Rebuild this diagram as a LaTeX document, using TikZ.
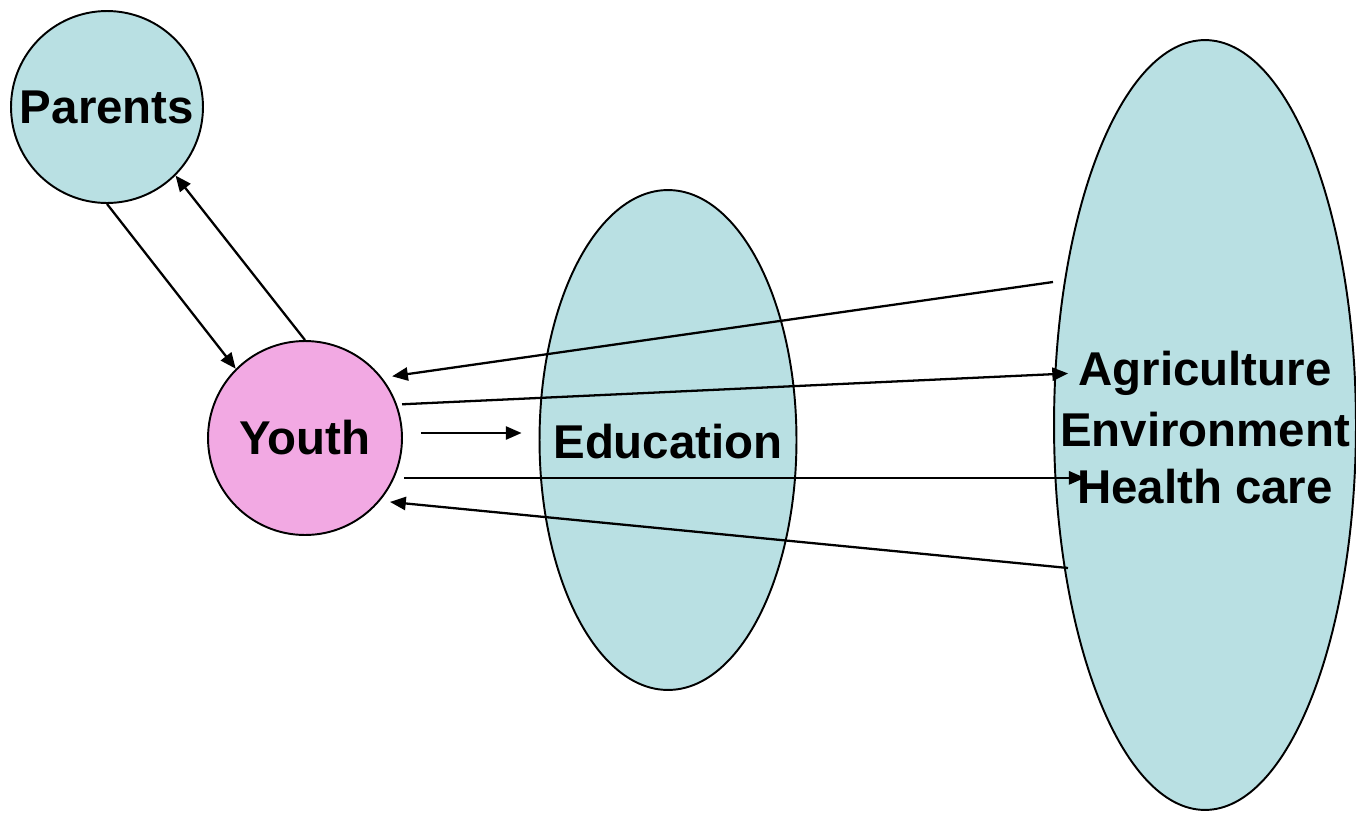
\documentclass[tikz,border=0pt]{standalone}
\usepackage{fontspec}
\setmainfont{Liberation Sans}
\usetikzlibrary{arrows.meta,shapes.geometric}
\definecolor{paleteal}{HTML}{B9E0E3}
\definecolor{palepink}{HTML}{F2A9E3}
\begin{document}
\begin{tikzpicture}[x=0.02cm, y=-0.02cm,
	bubble/.style={draw, line width=1.1pt, inner sep=0pt, font=\fontsize{27}{32}\bfseries\selectfont},
	lbl/.style={inner sep=0pt, font=\fontsize{27}{32}\bfseries\selectfont},
	arr/.style={line width=1.3pt, -{Triangle[length=9pt, width=7.5pt]}}]

\useasboundingbox (0,0) rectangle (1356,812);

\node[bubble, circle, fill=paleteal, minimum size=3.84cm] (parents) at (107,107) {Parents};
\node[bubble, circle, fill=palepink, minimum size=3.88cm] (youth) at (305,438) {Youth};
\node[bubble, ellipse, fill=paleteal, minimum width=5.14cm, minimum height=10cm] (edu) at (668,440) {};
\node[lbl] (edutext) at (668,442) {Education};
\node[bubble, ellipse, fill=paleteal, minimum width=6.04cm, minimum height=15.4cm] (sectors) at (1205,425) {};
\node[lbl] (agri) at (1205,373) {Agriculture};
\node[lbl] (env) at (1205,430) {Environment};
\node[lbl] (health) at (1205,487) {Health care};

\coordinate (back1) at (1053,282);
\coordinate (back2) at (1068,568);

\draw[arr] (parents.south) -- (youth.135);
\draw[arr] (youth.north) -- (parents.-45);
\draw[arr, shorten >=0.2cm] (back1) -- (youth.38);
\draw[arr, shorten <=0.1cm, shorten >=0.2cm] (youth.20) -- (agri.west);
\draw[arr, shorten <=0.36cm, shorten >=0.34cm] ([yshift=0.1cm]youth.east) -- ([yshift=0.1cm]youth.east -| edu.west);
\draw[arr, shorten <=0.2cm, shorten >=-0.16cm] (youth.-24) -- (youth.-24 -| health.west);
\draw[arr, shorten >=0.2cm] (back2) -- (youth.-40);
\end{tikzpicture}
\end{document}
